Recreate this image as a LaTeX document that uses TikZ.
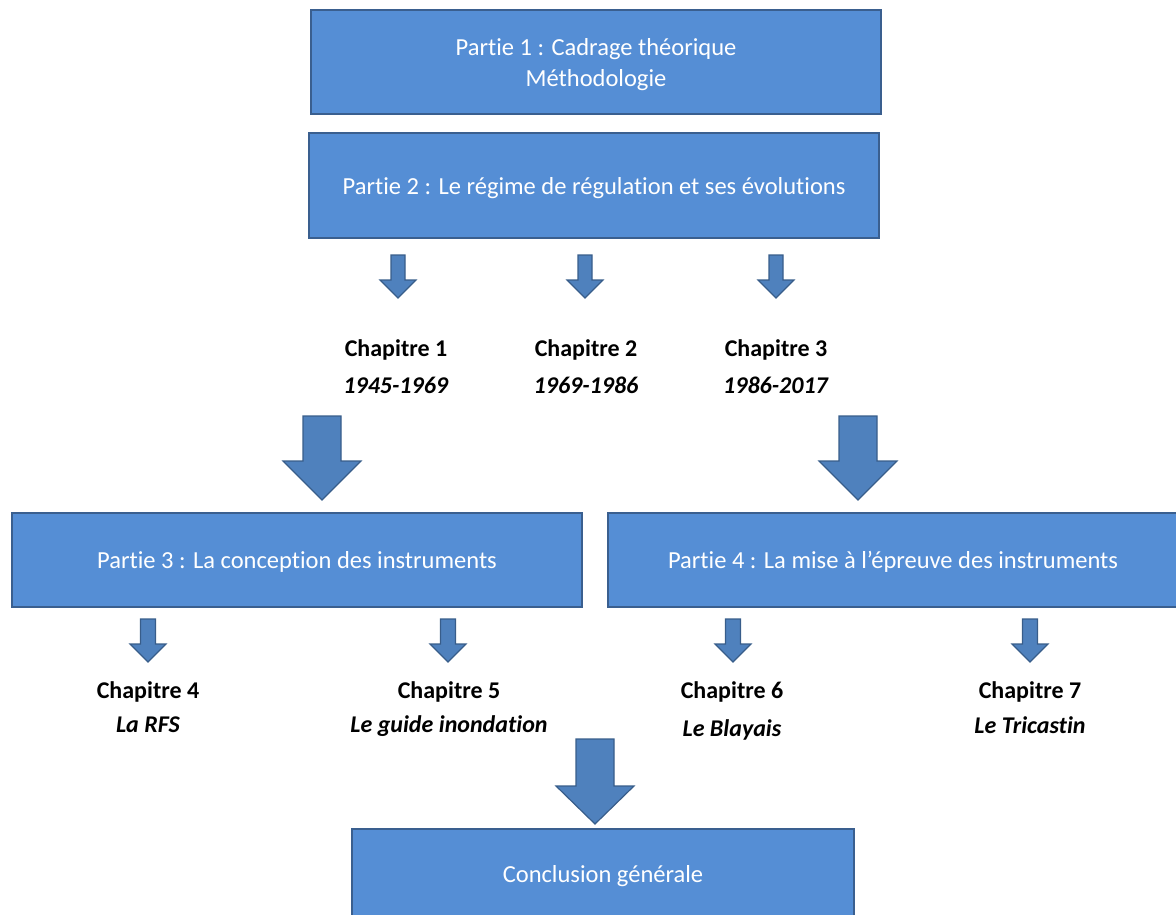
\documentclass[tikz,border=0pt]{standalone}
\usepackage{fontspec}
\setmainfont{Carlito}[Ligatures={NoCommon}]
\definecolor{boxfill}{HTML}{558ED5}
\definecolor{boxborder}{HTML}{3A5F8F}
\definecolor{arrowfill}{HTML}{4F81BD}
\definecolor{arrowborder}{HTML}{385D8A}
\newcommand{\blockarr}[7]{%
  \filldraw[barrow] (#2-#5/2,#3) -- (#2+#5/2,#3) -- (#2+#5/2,#7) -- (#2+#6/2,#7)
    -- (#2,#4) coordinate (#1) -- (#2-#6/2,#7) -- (#2-#5/2,#7) -- cycle;}
\begin{document}
\begin{tikzpicture}[x=1pt,y=-1pt,
  box/.style={draw=boxborder, line width=1.8pt, fill=boxfill, text=white,
    font=\fontsize{24.5}{31}\selectfont, align=center, inner sep=0pt, text depth=0pt},
  chap/.style={font=\bfseries\fontsize{24}{#1}\selectfont, align=center, inner sep=0pt, anchor=base},
  barrow/.style={draw=arrowborder, line width=1.2pt, fill=arrowfill, line join=miter}]
\useasboundingbox (0,0) rectangle (1176,915);

% boxes
\node[box, minimum width=570pt, minimum height=104pt] (p1) at (596,62)
  {Partie 1 : Cadrage théorique\\Méthodologie};
\node[box, minimum width=570pt, minimum height=105pt] (p2) at (594,185.5)
  {Partie 2 : Le régime de régulation et ses évolutions};
\node[box, minimum width=570pt, minimum height=94pt] (p3) at (297,560)
  {Partie 3 : La conception des instruments};
\node[box, minimum width=570pt, minimum height=94pt] (p4) at (893,560)
  {Partie 4 : La mise à l’épreuve des instruments};
\node[box, minimum width=502pt, minimum height=90pt] (concl) at (603,874)
  {Conclusion générale};

% chapters (anchored at the baseline of the second line)
\node[chap=37] (c1) at (396,393) {Chapitre 1\\\textit{1945-1969}};
\node[chap=37] (c2) at (586,393) {Chapitre 2\\\textit{1969-1986}};
\node[chap=37] (c3) at (776,393) {Chapitre 3\\\textit{1986-2017}};
\node[chap=34] (c4) at (148,732) {Chapitre 4\\\textit{La RFS}};
\node[chap=34] (c5) at (449,732) {Chapitre 5\\\textit{Le guide inondation}};
\node[chap=38] (c6) at (732,736) {Chapitre 6\\\textit{Le Blayais}};
\node[chap=35] (c7) at (1030,733) {Chapitre 7\\\textit{Le Tricastin}};

% small arrows, row 1
\blockarr{a1}{398}{255}{298}{14}{36}{280}
\blockarr{a2}{585}{255}{298}{14}{36}{280}
\blockarr{a3}{776}{255}{298}{14}{36}{280}
% big arrows
\blockarr{b1}{322}{416}{500}{38}{78}{461}
\blockarr{b2}{858}{416}{500}{38}{78}{461}
% small arrows, row 2
\blockarr{a4}{148}{619}{662}{15}{36}{644}
\blockarr{a5}{448}{619}{662}{15}{36}{644}
\blockarr{a6}{733}{619}{662}{15}{36}{644}
\blockarr{a7}{1030}{619}{662}{15}{36}{644}
% bottom arrow
\blockarr{b3}{595}{739}{824}{38}{78}{786}
\end{tikzpicture}
\end{document}
